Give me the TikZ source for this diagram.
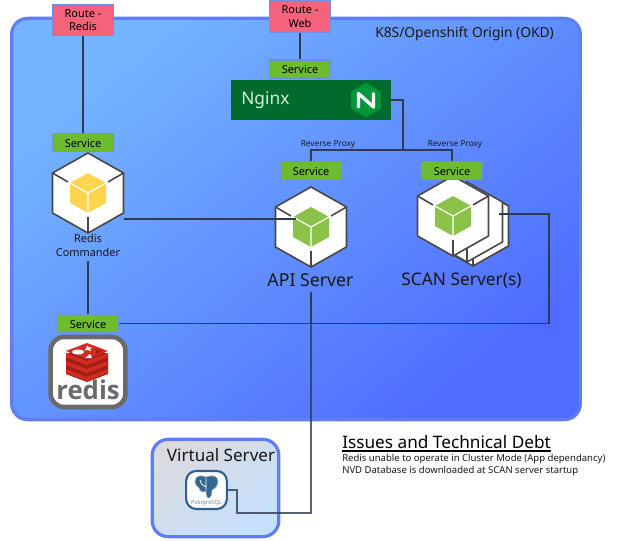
\documentclass[tikz,border=0pt]{standalone}
\usepackage{fontspec}
\setmainfont{Noto Sans}
\newfontfamily\redisfont{Open Sans}
\usetikzlibrary{calc}
\definecolor{bordblue}{HTML}{5F7DF5}
\definecolor{boxedge}{HTML}{6E8FE8}
\definecolor{wire}{HTML}{2F3B50}
\definecolor{cubeedge}{HTML}{484848}
\definecolor{routefill}{HTML}{F4627B}
\definecolor{svcfill}{HTML}{6DBB2F}
\definecolor{nginxfill}{HTML}{006B2A}
\definecolor{redred}{HTML}{D32B1F}
\definecolor{reddark}{HTML}{A01F14}
\newcommand{\pxfont}[1]{\fontsize{#1}{#1}\selectfont}
\tikzset{
  x=0.75pt,y=-0.75pt,
  route/.style={draw=boxedge,line width=1.1pt,fill=routefill,minimum width=45.5pt,minimum height=23pt,inner sep=0pt,align=center,font=\pxfont{8.2}},
  svc/.style={draw=boxedge,line width=1.1pt,fill=svcfill,minimum width=45.5pt,minimum height=13.5pt,inner sep=0pt,font=\pxfont{8.2},text height=7.2pt,text depth=0pt},
  wireline/.style={draw=wire,line width=1.2pt,line join=miter},
  lbl/.style={inner sep=0pt,text=black!90},
  hexshape/.pic={
    \draw[cubeedge,line width=1.2pt,fill=white,line join=miter]
      (0,-40)--(35.5,-20)--(35.5,20)--(0,40)--(-35.5,20)--(-35.5,-20)--cycle;
    \draw[cubeedge,line width=1.2pt] (0,24)--(0,40);
  },
  cube/.pic={
    \draw[cubeedge,line width=1.2pt,fill=white,line join=miter]
      (0,-40)--(35.5,-20)--(35.5,20)--(0,40)--(-35.5,20)--(-35.5,-20)--cycle;
    \draw[cubeedge,line width=1.2pt] (0,24)--(0,40) (-35.5,-20)--(-20,-11) (35.5,-20)--(20,-11);
    \fill[pic actions] (0,-20)--(18,-10)--(18,10)--(0,20)--(-18,10)--(-18,-10)--cycle;
    \draw[white,line width=0.9pt] (-18,-10)--(0,0)--(18,-10) (0,0)--(0,20);
  }
}
\begin{document}
\begin{tikzpicture}
\useasboundingbox (0,0) rectangle (638,541);
% containers
\node[draw=bordblue,line width=2.4pt,rounded corners=12pt,minimum width=426.5pt,minimum height=301pt,inner sep=0pt,
  top color={rgb,255:red,116;green,180;blue,255},bottom color={rgb,255:red,78;green,108;blue,255},shading angle=40] (okd) at (296,219) {};
\node[draw=bordblue,line width=2.4pt,rounded corners=12pt,minimum width=95pt,minimum height=73pt,inner sep=0pt,
  top color={rgb,255:red,218;green,218;blue,224},bottom color={rgb,255:red,198;green,224;blue,252},shading angle=40] (vserver) at (215.5,488) {};
\node[lbl,anchor=west,font=\pxfont{10.35}] (okdlabel) at (375,33.5) {K8S/Openshift Origin (OKD)};
\node[lbl,font=\pxfont{12.8}] (vslabel) at (221,455) {Virtual Server};
% cubes
\pic[fill={rgb,255:red,255;green,213;blue,79}] at (88,193) {cube};
\pic[fill={rgb,255:red,139;green,195;blue,74}] at (311,227) {cube};
\pic at (473,226) {hexshape};
\pic at (467,222) {hexshape};
\pic[fill={rgb,255:red,139;green,195;blue,74}] at (453,216) {cube};
% boxes
\node[route] (rredis) at (83,20) {Route -\\[2pt]Redis};
\node[route] (rweb) at (300,16.5) {Route -\\[2pt]Web};
\node[svc] (snginx) at (300,69) {Service};
\node[svc] (sredis) at (83,142.5) {Service};
\node[svc] (sapi) at (311,170.5) {Service};
\node[svc] (sscan) at (452,170.5) {Service};
\node[svc] (sdb) at (88,323.5) {Service};
\node[fill=nginxfill,minimum width=120pt,minimum height=30pt,inner sep=0pt] (nginx) at (311,100) {};
\node[anchor=west,inner sep=0pt,text={rgb,255:red,214;green,240;blue,214},font=\pxfont{13}] (nginxlabel) at (241,100) {Nginx};
\fill[fill={rgb,255:red,0;green,150;blue,57}] (366,83)--(381,91.5)--(381,108.5)--(366,117)--(351,108.5)--(351,91.5)--cycle;
\draw[white,line width=2.5pt,line join=round,line cap=round] (358.5,107)--(358.5,93.5)--(373.5,107)--(373.5,93.5);
% redis tile
\node[draw={rgb,255:red,106;green,106;blue,106},line width=3.4pt,fill=white,rounded corners=10pt,minimum width=56pt,minimum height=52.5pt,inner sep=0pt] (redisbox) at (88,372) {};
\fill[reddark] (66,354)--(87,345)--(108,354)--(108,374)--(87,382)--(66,374)--cycle;
\foreach \dy in {0,8,16}{
  \fill[redred] (66,353+\dy)--(87,361+\dy)--(108,353+\dy)--(108,357+\dy)--(87,365+\dy)--(66,357+\dy)--cycle;
}
\fill[redred] (66,351)--(87,343)--(108,351)--(87,359)--cycle;
\fill[white] (78,352) ellipse[x radius=6,y radius=2.5];
\fill[white] (87,345.5)--(89,347.5)--(92,347)--(90,349)--(91,351)--(87.5,350)--(84,350.5)--(86,348.5)--cycle;
\fill[white] (85,358)--(90,354)--(92,358)--cycle;
\fill[reddark] (96,349)--(102,351.5)--(96,353.5)--cycle;
\node[inner sep=0pt,text={rgb,255:red,106;green,106;blue,106},font=\redisfont\pxfont{19.3}\bfseries] (redislabel) at (88,390) {redis};
% postgres tile
\node[draw={rgb,255:red,47;green,95;blue,149},line width=1.6pt,fill=white,rounded corners=7.5pt,minimum width=30.5pt,minimum height=28.5pt,inner sep=0pt] (pg) at (206.5,490) {};
\fill[draw={rgb,255:red,170;green,190;blue,215},line width=0.5pt,fill={rgb,255:red,51;green,103;blue,145}]
  (195,481) .. controls (195,475) and (202,475) .. (206,477)
  .. controls (211,475) and (218,475) .. (218,481)
  .. controls (218,486) and (215,489) .. (212,490)
  .. controls (212,494) and (211,499) .. (208,498)
  .. controls (206,497) and (206,493) .. (206,491)
  .. controls (203,493) and (200,492) .. (199,488)
  .. controls (197,486) and (195,485) .. (195,481) -- cycle;
\draw[white,line width=0.6pt] (206,478)--(206,490) (200,480) .. controls (201,484) and (203,486) .. (206,487);
\node[inner sep=0pt,text={rgb,255:red,120;green,130;blue,150},font=\pxfont{4.2}] (pglabel) at (206.5,503) {PostgreSQL};
% small labels
\node[lbl,font=\pxfont{8.2},align=center] (cmdlabel) at (88,245.5) {Redis\\[2pt]Commander};
\node[lbl,font=\pxfont{13.3}] (apilabel) at (310.5,280) {API Server};
\node[lbl,font=\pxfont{13}] (scanlabel) at (461.5,280.5) {SCAN Server(s)};
\node[lbl,font=\pxfont{6.2}] (rp1) at (328,145) {Reverse Proxy};
\node[lbl,font=\pxfont{6.2}] (rp2) at (455,145) {Reverse Proxy};
% connectors
\coordinate (apicube) at (296,219);
\coordinate (redcube) at (124,219);
\coordinate (scanright) at (499,214);
\coordinate (apibelow) at (311,292);
\coordinate (junction) at (403,150);
\coordinate (lowjoin) at (311,323);
\coordinate (rcbelow) at (88,261);
\draw[wireline] (rredis.south) -- (sredis.north);
\draw[wireline] (rweb.south) -- (snginx.north);
\draw[wireline] (rcbelow) -- (sdb.north);
\draw[wireline] (redcube) -- (apicube);
\draw[wireline] (nginx.east) -- (junction |- nginx.east) -- (junction);
\draw[wireline,line width=1.8pt] (junction |- nginx.east) -- (junction);
\draw[wireline] (sapi.north) -- (sapi.north |- junction) -- (sscan.north |- junction) -- (sscan.north);
\draw[wireline] (sdb.east) -- (549,323.5) -- (549,214) -- (scanright);
\draw[wireline] (apibelow) -- (lowjoin);
\draw[wire,line width=1.2pt,opacity=.8] (lowjoin) -- (311,513) -- (237,513) -- (237,490) -- (pg.east);
% debt notes
\node[anchor=west,inner sep=0pt,text=black,font=\pxfont{12.9}] (issues) at (342,442) {Issues and Technical Debt};
\draw[black,line width=0.9pt] ($(issues.west)+(0,9)$) -- ($(issues.east)+(0,9)$);
\node[anchor=west,inner sep=0pt,text=black!90,font=\pxfont{7.15}] (issue1) at (342,459) {Redis unable to operate in Cluster Mode (App dependancy)};
\node[anchor=west,inner sep=0pt,text=black!90,font=\pxfont{7.15}] (issue2) at (342,471) {NVD Database is downloaded at SCAN server startup};
\end{tikzpicture}
\end{document}
